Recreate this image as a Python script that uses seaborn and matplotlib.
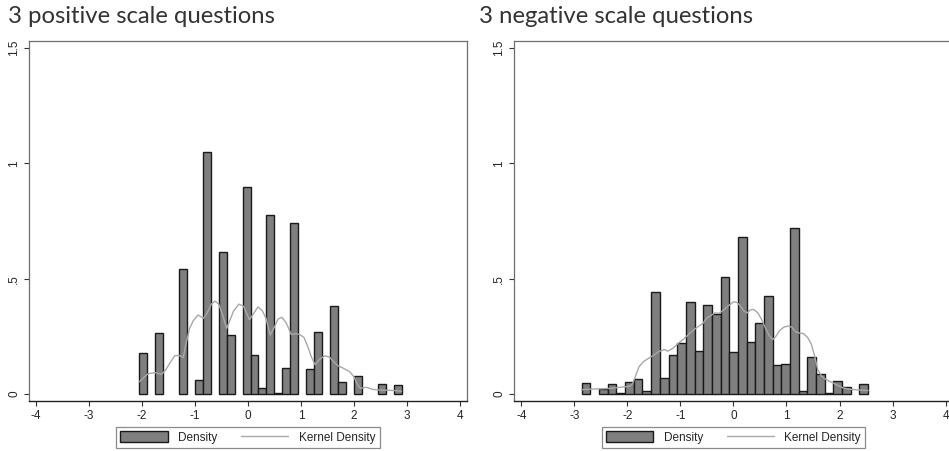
import numpy as np
import pandas as pd
import matplotlib
matplotlib.use('Agg')
import matplotlib.pyplot as plt
import seaborn as sns
from matplotlib.patches import Patch
from matplotlib.lines import Line2D

# histogram bins (Stata style, 33 bins each)
POS_BIN_START = -2.05
POS_BIN_WIDTH = 0.15
pos_density = [0.177, 0, 0.266, 0, 0, 0.541, 0, 0.060, 1.050, 0, 0.617, 0.257, 0,
               0.899, 0.171, 0.028, 0.775, 0.005, 0.113, 0.740, 0, 0.107, 0.269, 0,
               0.382, 0.052, 0, 0.078, 0, 0, 0.043, 0, 0.039]

NEG_BIN_START = -2.86
NEG_BIN_WIDTH = 0.1636
neg_density = [0.046, 0, 0.023, 0.042, 0.006, 0.050, 0.064, 0.014, 0.444, 0.068,
               0.168, 0.220, 0.400, 0.185, 0.385, 0.347, 0.508, 0.181, 0.680, 0.224,
               0.309, 0.427, 0.126, 0.130, 0.720, 0.012, 0.161, 0.088, 0.003, 0.058,
               0.032, 0, 0.042]

# kernel density curves
pos_kde_x = [-2.05, -1.95, -1.88, -1.75, -1.63, -1.55, -1.47, -1.38, -1.30, -1.22, -1.16,
             -1.10, -1.03, -0.94, -0.84, -0.76, -0.69, -0.62, -0.55, -0.48, -0.40, -0.34,
             -0.27, -0.17, -0.08, 0.03, 0.11, 0.19, 0.27, 0.34, 0.42, 0.50, 0.57, 0.64,
             0.72, 0.82, 0.90, 0.98, 1.06, 1.14, 1.20, 1.27, 1.35, 1.45, 1.54, 1.62, 1.70,
             1.80, 1.92, 2.00, 2.06, 2.12, 2.24, 2.36, 2.50, 2.65, 2.78, 2.90]
pos_kde_y = [0.053, 0.075, 0.088, 0.093, 0.085, 0.105, 0.135, 0.166, 0.168, 0.158, 0.225,
             0.285, 0.318, 0.343, 0.328, 0.355, 0.390, 0.403, 0.390, 0.345, 0.285, 0.320,
             0.360, 0.390, 0.380, 0.322, 0.350, 0.378, 0.362, 0.330, 0.256, 0.290, 0.325,
             0.333, 0.310, 0.258, 0.262, 0.258, 0.245, 0.200, 0.160, 0.127, 0.150, 0.166,
             0.160, 0.140, 0.123, 0.112, 0.097, 0.075, 0.045, 0.025, 0.029, 0.020, 0.017,
             0.016, 0.015, 0.012]

neg_kde_x = [-2.86, -2.60, -2.35, -2.10, -1.95, -1.90, -1.85, -1.78, -1.70, -1.60, -1.50,
             -1.40, -1.30, -1.24, -1.15, -1.05, -0.93, -0.83, -0.74, -0.65, -0.58, -0.50,
             -0.43, -0.35, -0.27, -0.18, -0.10, 0.00, 0.06, 0.12, 0.20, 0.26, 0.32, 0.38,
             0.46, 0.54, 0.61, 0.68, 0.74, 0.80, 0.87, 0.95, 1.03, 1.10, 1.17, 1.24, 1.32,
             1.40, 1.47, 1.53, 1.59, 1.66, 1.75, 1.86, 1.96, 2.07, 2.22, 2.40, 2.54]
neg_kde_y = [0.019, 0.022, 0.024, 0.030, 0.034, 0.045, 0.075, 0.118, 0.140, 0.155, 0.169,
             0.185, 0.193, 0.186, 0.197, 0.218, 0.240, 0.262, 0.280, 0.295, 0.305, 0.330,
             0.340, 0.352, 0.350, 0.365, 0.382, 0.400, 0.398, 0.385, 0.360, 0.352, 0.365,
             0.367, 0.352, 0.320, 0.282, 0.252, 0.236, 0.250, 0.275, 0.290, 0.295, 0.290,
             0.270, 0.265, 0.262, 0.245, 0.215, 0.165, 0.105, 0.078, 0.062, 0.050, 0.038,
             0.026, 0.020, 0.017, 0.015]

titles = ['3 positive scale questions', '3 negative scale questions']
x_ticks = [-4, -3, -2, -1, 0, 1, 2, 3, 4]
y_ticks = [0, 0.5, 1, 1.5]
y_ticklabels = ['0', '.5', '1', '1.5']

BAR_COLOR = '#7f7f7f'
EDGE_COLOR = '#1a1a1a'
KDE_COLOR = '#a8a8a8'

sns.set_theme(style='white')
plt.rcParams['font.family'] = ['Liberation Sans', 'DejaVu Sans']


def panel(ax, start, width, dens, kx, ky):
    n = len(dens)
    stop = start + width * n
    centers = start + width * (np.arange(n) + 0.5)
    d = pd.DataFrame({'x': centers, 'w': dens})
    sns.histplot(data=d, x='x', weights='w', bins=n, binrange=(start, stop), stat='count',
                 ax=ax, color=BAR_COLOR, edgecolor=EDGE_COLOR, linewidth=1.0, alpha=1,
                 zorder=2)
    for p in ax.patches:
        if p.get_height() <= 0:
            p.set_visible(False)
    k = pd.DataFrame({'x': kx, 'y': ky})
    sns.lineplot(data=k, x='x', y='y', sort=False, color=KDE_COLOR, lw=1.0, ax=ax, zorder=3)
    ax.set_xlim(-4.13, 4.13)
    ax.set_ylim(-0.03, 1.531)
    ax.set_xticks(x_ticks)
    ax.set_xticklabels([str(t) for t in x_ticks])
    ax.set_yticks(y_ticks)
    ax.set_yticklabels(y_ticklabels, rotation=90, va='center')
    ax.set_xlabel('')
    ax.set_ylabel('')
    ax.tick_params(axis='both', which='major', direction='out', length=3.5, width=0.8,
                   color='#333333', labelsize=8.5, pad=3, bottom=True, left=True)
    for s in ['top', 'right', 'left']:
        ax.spines[s].set_color('#6e6e6e')
        ax.spines[s].set_linewidth(0.9)
    ax.spines['bottom'].set_color('#222222')
    ax.spines['bottom'].set_linewidth(1.0)
    handles = [Patch(facecolor=BAR_COLOR, edgecolor=EDGE_COLOR, linewidth=1.0),
               Line2D([], [], color=KDE_COLOR, lw=1.0)]
    leg = ax.legend(handles, ['Density', 'Kernel Density'], loc='upper center',
                    bbox_to_anchor=(0.5, -0.072), ncol=2, fontsize=8.5, frameon=True,
                    fancybox=False, edgecolor='#6e6e6e', handlelength=4.0,
                    handleheight=1.1, handletextpad=0.9, columnspacing=2.0,
                    borderpad=0.35, borderaxespad=0)
    leg.get_frame().set_linewidth(0.9)


fig = plt.figure(figsize=(9.49, 4.51), dpi=100)
ax1 = fig.add_axes([0.0306, 0.111, 0.4612, 0.798])
ax2 = fig.add_axes([0.542, 0.111, 0.4617, 0.798])
panel(ax1, POS_BIN_START, POS_BIN_WIDTH, pos_density, pos_kde_x, pos_kde_y)
panel(ax2, NEG_BIN_START, NEG_BIN_WIDTH, neg_density, neg_kde_x, neg_kde_y)

fig.text(0.0085, 0.949, titles[0], family=['Lato', 'DejaVu Sans'], fontsize=17.2,
         color='#333333', va='baseline', ha='left')
fig.text(0.5047, 0.949, titles[1], family=['Lato', 'DejaVu Sans'], fontsize=17.2,
         color='#333333', va='baseline', ha='left')

fig.savefig('out.png', dpi=100)
